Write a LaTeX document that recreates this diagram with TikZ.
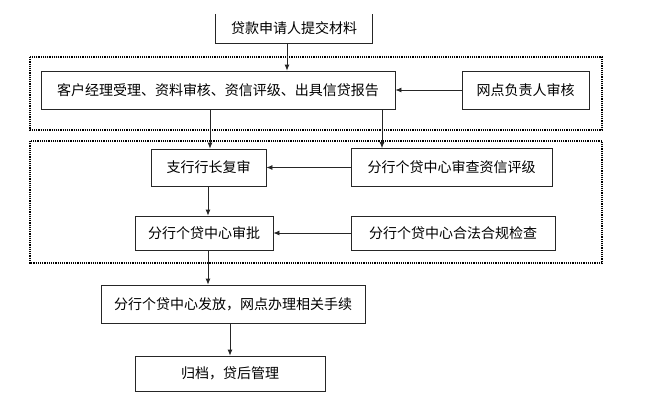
\documentclass[tikz,border=0pt]{standalone}
\usepackage{fontspec}
\newfontfamily\cjk{Noto Sans CJK SC}
\usetikzlibrary{arrows.meta,calc}
\begin{document}
\begin{tikzpicture}[x=1pt,y=-1pt,
  box/.style={draw=black!85,line width=0.8pt,inner sep=0pt,font=\cjk\fontsize{14pt}{16pt}\selectfont},
  opentop/.style={inner sep=0pt,font=\cjk\fontsize{14pt}{16pt}\selectfont},
  grp/.style={draw=black,line width=1.2pt,dash pattern=on 1.2pt off 1pt},
  arr/.style={draw=black!85,line width=0.8pt,-{Latex[length=6pt,width=5pt]}}]
\useasboundingbox (0,0) rectangle (646,405);
% groups
\draw[grp] (30,57) rectangle (602,130);
\draw[grp] (30,141) rectangle (602,263);
% nodes
\node[opentop,minimum width=156pt,minimum height=29pt] (top) at (294,28.5) {贷款申请人提交材料};
\draw[draw=black!85,line width=0.8pt] (top.north west) -- (top.south west) -- (top.south east) -- (top.north east);
\node[box,minimum width=354pt,minimum height=38pt] (A) at (218,90) {客户经理受理、资料审核、资信评级、出具信贷报告};
\node[box,minimum width=127pt,minimum height=38pt] (B) at (525.5,90) {网点负责人审核};
\node[box,minimum width=115pt,minimum height=37pt] (C) at (208.5,167.5) {支行行长复审};
\node[box,minimum width=201pt,minimum height=38pt] (F) at (451.5,167.5) {分行个贷中心审查资信评级};
\node[box,minimum width=138pt,minimum height=34pt] (D) at (204,233) {分行个贷中心审批};
\node[box,minimum width=204pt,minimum height=34pt] (G) at (453,233) {分行个贷中心合法合规检查};
\node[box,minimum width=264pt,minimum height=38pt] (E) at (233,304) {分行个贷中心发放，网点办理相关手续};
\node[box,minimum width=190pt,minimum height=35pt] (H) at (230,373.5) {归档，贷后管理};
% connectors
\draw[arr] (287,0 |- top.south) -- (287,0 |- A.north);
\draw[arr] (B.west) -- (A.east);
\draw[arr] (210,0 |- A.south) -- (210,0 |- C.north);
\draw[arr] (382,0 |- A.south) -- (382,0 |- F.north);
\draw[arr] (F.west) -- (C.east);
\draw[arr] (208,0 |- C.south) -- (208,0 |- D.north);
\draw[arr] (G.west) -- (D.east);
\draw[arr] (208,0 |- D.south) -- (208,0 |- E.north);
\draw[arr] (H.north |- E.south) -- (H.north);
\end{tikzpicture}
\end{document}
